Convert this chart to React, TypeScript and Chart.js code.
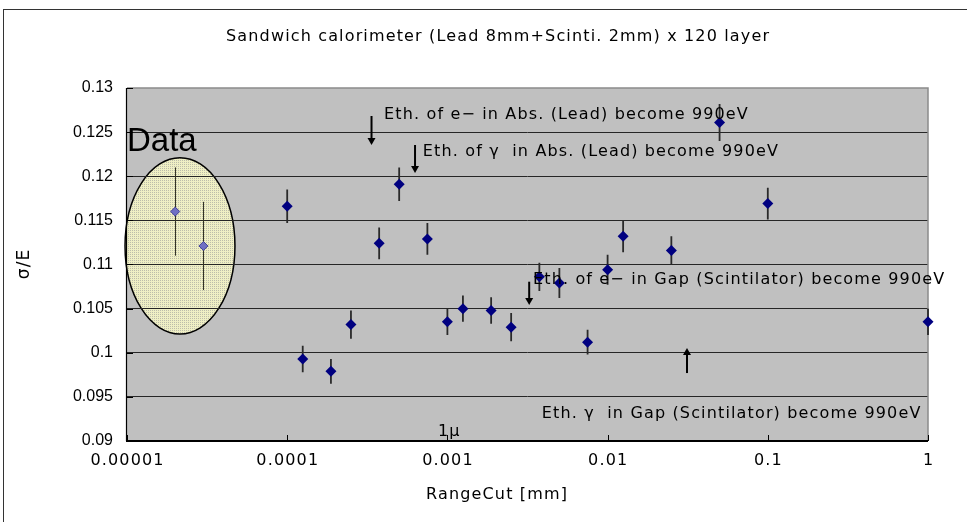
import React, { useEffect, useRef } from 'react';
import { Chart, registerables } from 'chart.js';
Chart.register(...registerables);

// ---------- text ----------
const TITLE = 'Sandwich calorimeter (Lead 8mm+Scinti. 2mm) x 120 layer';
const X_TITLE = 'RangeCut [mm]';
const Y_TITLE = 'σ/E';

// ---------- simulation series ----------
const rangeCuts = [0.0001, 0.000125, 0.0001875, 0.00025, 0.000375, 0.0005, 0.00075, 0.001, 0.00125, 0.001875, 0.0025, 0.00375, 0.005, 0.0075, 0.01, 0.0125, 0.025, 0.05, 0.1, 1];
const resolution = [0.1166, 0.0993, 0.0979, 0.1032, 0.1124, 0.1191, 0.1129, 0.1035, 0.1050, 0.1048, 0.1029, 0.1086, 0.1079, 0.1012, 0.1094, 0.1132, 0.1116, 0.1261, 0.1169, 0.1035];
const resolutionErr = [0.0019, 0.0015, 0.0014, 0.0016, 0.0018, 0.0019, 0.0018, 0.0015, 0.0015, 0.0015, 0.0016, 0.0016, 0.0017, 0.0014, 0.0017, 0.0018, 0.0016, 0.0021, 0.0018, 0.0015];

// ---------- measured data series ----------
const dataCuts = [0.00002, 0.00003];
const dataResolution = [0.116, 0.1121];
const dataErr = [0.005, 0.005];

// ---------- axes ----------
const xTicks = [0.00001, 0.0001, 0.001, 0.01, 0.1, 1];
const xTickLabels = ['0.00001', '0.0001', '0.001', '0.01', '0.1', '1'];
const Y_MIN = 0.09;
const Y_MAX = 0.13;
const Y_STEP = 0.005;

// ---------- annotations (data coordinates) ----------
const noteTexts = [
  'Eth. of e− in Abs. (Lead) become 990eV',
  'Eth. of γ  in Abs. (Lead) become 990eV',
  'Eth. of e− in Gap (Scintilator) become 990eV',
  'Eth. γ  in Gap (Scintilator) become 990eV',
];
const noteX = [0.000402, 0.000702, 0.00342, 0.00388];
const noteY = [0.12694, 0.12278, 0.10824, 0.09303];

const arrowX = [0.000336, 0.000628, 0.00324, 0.0313];
const arrowFrom = [0.12683, 0.12354, 0.10805, 0.0977];
const arrowTo = [0.12354, 0.12037, 0.10541, 0.10054];

const ellipseX = [0.00000972, 0.0000472];
const ellipseY = [0.10212, 0.1221];
const dataLabelPos = [0.00001, 0.12286];
const microLabelPos = [0.000873, 0.09102];

const FONT = '"Liberation Sans", Arial, sans-serif';
const GOTHIC = '"DejaVu Sans", "Liberation Sans", sans-serif';
const SPACING = 1.15;

function spacedText(ctx: CanvasRenderingContext2D, text: string, x: number, y: number, size: number, align: 'left' | 'center', spacing = SPACING) {
  ctx.save();
  ctx.font = `${size}px ${GOTHIC}`;
  ctx.fillStyle = '#000';
  ctx.textBaseline = 'middle';
  ctx.textAlign = 'left';
  (ctx as any).letterSpacing = '0px';
  const w0 = ctx.measureText(text).width;
  const n = Array.from(text).length;
  const w = w0 + spacing * (n - 1);
  (ctx as any).letterSpacing = spacing + 'px';
  const sx = align === 'center' ? x - w / 2 : x;
  ctx.fillText(text, sx, y);
  ctx.restore();
}

function makePattern(ctx: CanvasRenderingContext2D) {
  const c = document.createElement('canvas');
  c.width = 2;
  c.height = 2;
  const p = c.getContext('2d')!;
  p.fillStyle = '#efefc4';
  p.fillRect(0, 0, 2, 2);
  p.fillStyle = '#bdbdaa';
  p.fillRect(0, 0, 1, 1);
  return ctx.createPattern(c, 'repeat')!;
}

function drawArrow(ctx: CanvasRenderingContext2D, x: number, y1: number, y2: number) {
  const dir = y2 > y1 ? 1 : -1;
  const head = 7;
  ctx.save();
  ctx.strokeStyle = '#000';
  ctx.fillStyle = '#000';
  ctx.lineWidth = 2;
  ctx.beginPath();
  ctx.moveTo(x, y1);
  ctx.lineTo(x, y2 - dir * head);
  ctx.stroke();
  ctx.beginPath();
  ctx.moveTo(x, y2);
  ctx.lineTo(x - 4, y2 - dir * head);
  ctx.lineTo(x + 4, y2 - dir * head);
  ctx.closePath();
  ctx.fill();
  ctx.restore();
}

const decorPlugin = {
  id: 'decor',
  beforeDraw(chart: any) {
    const { ctx, chartArea: a } = chart;
    const xs = chart.scales.x;
    const ys = chart.scales.y;
    ctx.save();
    ctx.fillStyle = '#fff';
    ctx.fillRect(0, 0, chart.width, chart.height);
    ctx.strokeStyle = '#333';
    ctx.lineWidth = 1;
    ctx.strokeRect(3.5, 9.5, chart.width + 20, chart.height + 20);
    ctx.fillStyle = '#c0c0c0';
    ctx.fillRect(a.left, a.top, a.right - a.left, a.bottom - a.top);
    const l = xs.getPixelForValue(ellipseX[0]);
    const r = xs.getPixelForValue(ellipseX[1]);
    const t = ys.getPixelForValue(ellipseY[1]);
    const b = ys.getPixelForValue(ellipseY[0]);
    ctx.beginPath();
    ctx.ellipse((l + r) / 2, (t + b) / 2, (r - l) / 2, (b - t) / 2, 0, 0, Math.PI * 2);
    ctx.fillStyle = makePattern(ctx);
    ctx.fill();
    ctx.strokeStyle = '#000';
    ctx.lineWidth = 1.5;
    ctx.stroke();
    ctx.restore();
  },
  beforeDatasetsDraw(chart: any) {
    const { ctx, chartArea: a } = chart;
    const xs = chart.scales.x;
    const ys = chart.scales.y;
    ctx.save();
    // top & right border (gray)
    ctx.strokeStyle = '#8a8a8a';
    ctx.lineWidth = 1.5;
    ctx.beginPath();
    ctx.moveTo(a.left, a.top);
    ctx.lineTo(a.right, a.top);
    ctx.lineTo(a.right, a.bottom);
    ctx.stroke();
    // axes (black)
    ctx.strokeStyle = '#000';
    ctx.lineWidth = 1.2;
    ctx.beginPath();
    ctx.moveTo(a.left - 0.5, a.top);
    ctx.lineTo(a.left - 0.5, a.bottom);
    ctx.stroke();
    ctx.lineWidth = 2;
    ctx.beginPath();
    ctx.moveTo(a.left - 1, a.bottom);
    ctx.lineTo(a.right, a.bottom);
    ctx.stroke();
    // inner tick marks
    ctx.lineWidth = 1;
    ctx.strokeStyle = '#000';
    ctx.beginPath();
    xTicks.forEach((v) => {
      const px = Math.round(xs.getPixelForValue(v)) + 0.5;
      ctx.moveTo(px, a.bottom);
      ctx.lineTo(px, a.bottom - 6);
    });
    for (let v = Y_MIN; v <= Y_MAX + 1e-9; v += Y_STEP) {
      const py = Math.round(ys.getPixelForValue(v)) + 0.5;
      ctx.moveTo(a.left, py);
      ctx.lineTo(a.left + 6, py);
    }
    ctx.stroke();
    // error bars
    ctx.strokeStyle = '#2a2a2a';
    ctx.lineWidth = 1.8;
    ctx.beginPath();
    rangeCuts.forEach((c, i) => {
      const px = xs.getPixelForValue(c);
      ctx.moveTo(px, ys.getPixelForValue(resolution[i] + resolutionErr[i]));
      ctx.lineTo(px, ys.getPixelForValue(resolution[i] - resolutionErr[i]));
    });
    ctx.stroke();
    ctx.strokeStyle = '#333322';
    ctx.lineWidth = 1;
    ctx.beginPath();
    dataCuts.forEach((c, i) => {
      const px = Math.round(xs.getPixelForValue(c)) + 0.5;
      ctx.moveTo(px, ys.getPixelForValue(dataResolution[i] + dataErr[i]));
      ctx.lineTo(px, ys.getPixelForValue(dataResolution[i] - dataErr[i]));
    });
    ctx.stroke();
    ctx.restore();
  },
  afterDatasetsDraw(chart: any) {
    const { ctx, chartArea: a } = chart;
    const xs = chart.scales.x;
    const ys = chart.scales.y;
    // arrows
    arrowX.forEach((v, i) => {
      drawArrow(ctx, xs.getPixelForValue(v), ys.getPixelForValue(arrowFrom[i]), ys.getPixelForValue(arrowTo[i]));
    });
    // notes
    noteTexts.forEach((t, i) => {
      spacedText(ctx, t, xs.getPixelForValue(noteX[i]), ys.getPixelForValue(noteY[i]), 16, 'left');
    });
    // "Data" label
    ctx.save();
    ctx.font = `33px ${FONT}`;
    ctx.fillStyle = '#000';
    ctx.textBaseline = 'alphabetic';
    ctx.textAlign = 'left';
    ctx.fillText('Data', xs.getPixelForValue(dataLabelPos[0]), ys.getPixelForValue(dataLabelPos[1]));
    ctx.restore();
    // 1μ
    spacedText(ctx, '1μ', xs.getPixelForValue(microLabelPos[0]), ys.getPixelForValue(microLabelPos[1]), 16, 'left');
    // x tick labels
    xTicks.forEach((v, i) => {
      spacedText(ctx, xTickLabels[i], xs.getPixelForValue(v), a.bottom + 20, 16, 'center');
    });
    // titles (centred on the whole chart frame)
    const cx = (3 + chart.width + 25) / 2;
    spacedText(ctx, TITLE, cx, 37, 16, 'center');
    spacedText(ctx, X_TITLE, cx - 1, 495, 16, 'center');
    ctx.save();
    ctx.translate(25, (a.top + a.bottom) / 2);
    ctx.rotate(-Math.PI / 2);
    spacedText(ctx, Y_TITLE, 0, 0, 17, 'center');
    ctx.restore();
  },
};

export default function App() {
  const ref = useRef<HTMLCanvasElement>(null);
  useEffect(() => {
    const canvas = ref.current!;
    const chart = new Chart(canvas, {
      type: 'scatter',
      data: {
        datasets: [
          {
            label: 'Simulation',
            data: rangeCuts.map((c, i) => ({ x: c, y: resolution[i] })),
            pointStyle: 'rectRot',
            pointRadius: 5.5,
            pointBorderWidth: 0,
            backgroundColor: '#000080',
            borderColor: '#000080',
            clip: false,
          } as any,
          {
            label: 'Data',
            data: dataCuts.map((c, i) => ({ x: c, y: dataResolution[i] })),
            pointStyle: 'rectRot',
            pointRadius: 4.5,
            pointBorderWidth: 1,
            backgroundColor: '#7070c4',
            borderColor: '#404098',
            clip: false,
          } as any,
        ],
      },
      options: {
        animation: false,
        responsive: false,
        devicePixelRatio: 1,
        events: [],
        layout: { padding: { top: 88, right: 39, bottom: 0, left: 0 } },
        plugins: { legend: { display: false }, tooltip: { enabled: false }, title: { display: false } },
        scales: {
          x: {
            type: 'logarithmic',
            min: xTicks[0],
            max: xTicks[xTicks.length - 1],
            grid: { display: false },
            border: { display: false },
            ticks: { display: false },
            afterBuildTicks: (s: any) => {
              s.ticks = xTicks.map((v) => ({ value: v }));
            },
            afterFit: (s: any) => {
              s.height = 81;
            },
          },
          y: {
            type: 'linear',
            min: Y_MIN,
            max: Y_MAX,
            ticks: {
              stepSize: Y_STEP,
              padding: 14,
              color: '#000',
              font: { family: FONT, size: 16 },
              callback: (v: any) => String(Number(Number(v).toFixed(3))),
            },
            grid: {
              drawTicks: false,
              lineWidth: 1,
              color: (c: any) => {
                const v = c.tick ? c.tick.value : 0;
                return v <= Y_MIN + 1e-6 || v >= Y_MAX - 1e-6 ? 'rgba(0,0,0,0)' : '#262626';
              },
            },
            border: { display: false },
            afterFit: (s: any) => {
              s.width = 127;
            },
          },
        },
      } as any,
      plugins: [decorPlugin],
    });
    return () => chart.destroy();
  }, []);
  return (
    <canvas
      ref={ref}
      width={967}
      height={522}
      style={{ position: 'absolute', left: 0, top: 0, width: 967, height: 522 }}
    />
  );
}
